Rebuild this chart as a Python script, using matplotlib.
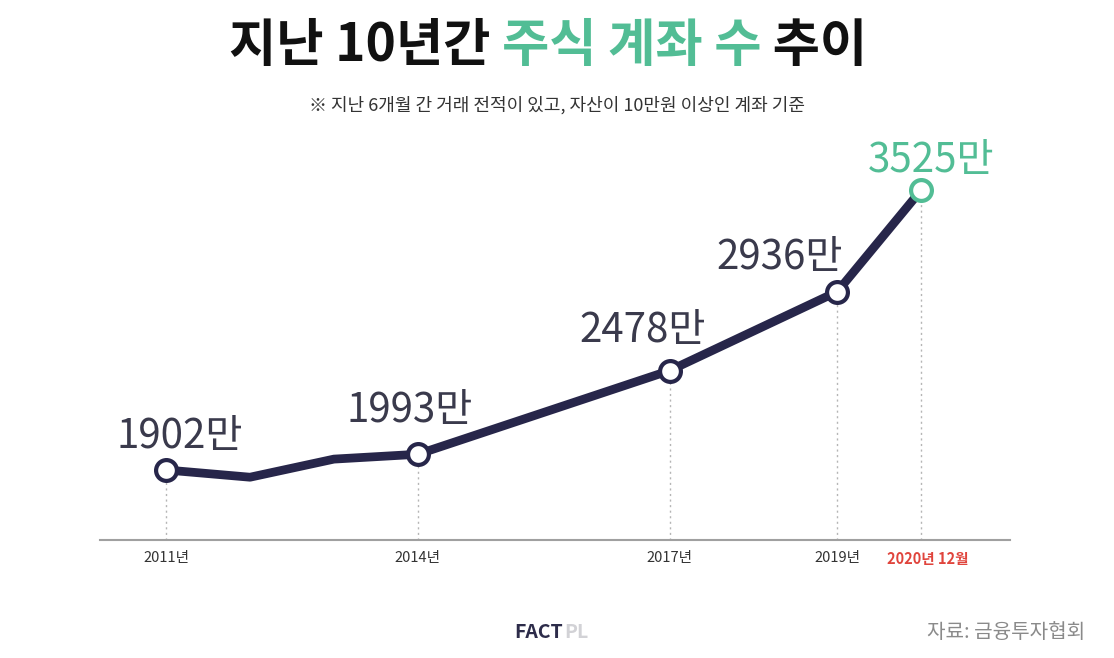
import matplotlib
matplotlib.use("Agg")
import matplotlib.pyplot as plt

plt.rcParams['font.family'] = ['Noto Sans CJK KR', 'DejaVu Sans']

# ---- data ----
years = [2011, 2012, 2013, 2014, 2017, 2019, 2020]
values = [1902, 1860, 1965, 1993, 2478, 2936, 3525]   # 만 계좌
label_years = [2011, 2014, 2017, 2019, 2020]
label_values = [1902, 1993, 2478, 2936, 3525]
label_texts = ["1902만", "1993만", "2478만", "2936만", "3525만"]
tick_years = [2011, 2014, 2017, 2019, 2020]
tick_labels = ["2011년", "2014년", "2017년", "2019년", "2020년 12월"]

NAVY = "#27264a"
GREEN = "#52bd95"
RED = "#e0443c"
TXT = "#3a3a4c"

W, H = 1114, 658
fig = plt.figure(figsize=(W / 100, H / 100), dpi=100)
fig.patch.set_facecolor("white")

ax = fig.add_axes([100 / W, 118 / H, 910 / W, 400 / H])
ax.set_xlim(2010.212, 2021.058)
ax.set_ylim(1496, 3815)

# dotted drop lines
for x, v in zip(label_years, label_values):
    ax.plot([x, x], [1496, v], ls=(0, (1.5, 2.5)), color="#b5b5b5", lw=1.0, zorder=1)

ax.plot(years, values, color=NAVY, lw=6.3, solid_joinstyle="round",
        solid_capstyle="round", zorder=2)

mk_edges = [NAVY, NAVY, NAVY, NAVY, GREEN]
for x, v, ec in zip(label_years, label_values, mk_edges):
    ax.plot([x], [v], marker="o", ms=15, mfc="white", mec=ec, mew=3,
            zorder=3, clip_on=False)

offsets = [(14, 33), (-8, 44), (-27, 40), (-58, 34), (10, 30)]
for x, v, t, off, i in zip(label_years, label_values, label_texts, offsets, range(5)):
    col = GREEN if i == 4 else TXT
    ax.annotate(t, (x, v), xytext=off, textcoords="offset pixels",
                ha="center", va="center", fontsize=29, color=col,
                fontweight="medium" if i == 4 else "light")

for s in ["top", "right", "left"]:
    ax.spines[s].set_visible(False)
ax.spines["bottom"].set_color("#a0a0a0")
ax.spines["bottom"].set_linewidth(1.5)
ax.set_yticks([])
ax.set_xticks(tick_years)
ax.set_xticklabels(tick_labels)
ax.tick_params(axis="x", length=0, pad=8, labelsize=10.5, labelcolor="#333333")
for lbl in ax.get_xticklabels():
    lbl.set_fontweight("medium")
last_tick = ax.get_xaxis().get_major_ticks()[-1].label1
last_tick.set_color(RED)
last_tick.set_fontweight("bold")
last_tick.set_transform(
    last_tick.get_transform()
    + matplotlib.transforms.ScaledTranslation(7 / 100, 0, fig.dpi_scale_trans))

# ---- title in multiple colours ----
renderer = fig.canvas.get_renderer()
parts = [("지난 10년간 ", "#111111"), ("주식 계좌 수", GREEN), (" 추이", "#111111")]
texts = []
for s, c in parts:
    t = fig.text(0, 1 - 45 / H, s, fontsize=37, fontweight="heavy", color=c,
                 ha="left", va="center")
    texts.append(t)
widths = [t.get_window_extent(renderer).width for t in texts]
total = sum(widths)
x0 = 548 - total / 2
for t, w in zip(texts, widths):
    t.set_x(x0 / W)
    x0 += w

fig.text(557 / W, 1 - 105 / H,
         "※ 지난 6개월 간 거래 전적이 있고, 자산이 10만원 이상인 계좌 기준",
         ha="center", va="center", fontsize=13, color="#333333")

# footer
t1 = fig.text(514 / W, 1 - 632 / H, "FACT", fontsize=14, fontweight="heavy",
              color="#2d2c4a", ha="left", va="center")
w1 = t1.get_window_extent(renderer).width
fig.text((514 + w1 + 1) / W, 1 - 632 / H, "PL", fontsize=14, fontweight="bold",
         color="#d2d2d6", ha="left", va="center")
fig.text(1085 / W, 1 - 632 / H, "자료: 금융투자협회", fontsize=14.5,
         color="#8a8a8a", ha="right", va="center")

fig.savefig("out.png", dpi=100, facecolor="white")
